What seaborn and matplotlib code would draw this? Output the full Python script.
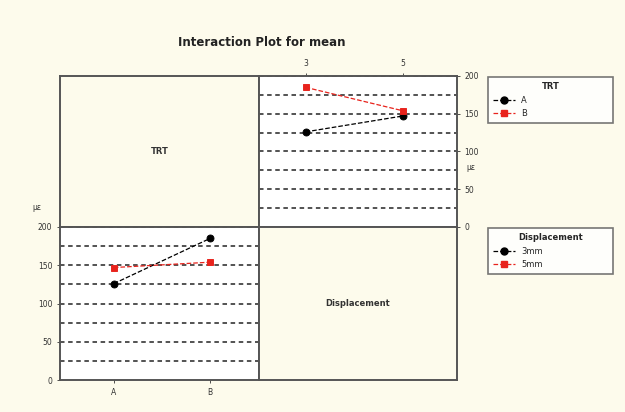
import numpy as np
import pandas as pd
import seaborn as sns
import matplotlib.pyplot as plt
from matplotlib.lines import Line2D

# data
trt = ["A", "A", "B", "B"]
disp = [3, 5, 3, 5]
mean_vals = [126, 147, 185, 154]
trt_levels = ["A", "B"]
disp_levels = [3, 5]
disp_names = ["3mm", "5mm"]
yticks = [0, 50, 100, 150, 200]

df = pd.DataFrame({"TRT": trt, "Displacement": disp, "mean": mean_vals})

sns.set_style("white")
plt.rcParams['font.family'] = ['DejaVu Sans']

bg = "#fdfbec"
frame = "#555555"
cols = ["black", "#e8231c"]
marks = ["o", "s"]

fig = plt.figure(figsize=(6.25, 4.12), dpi=100)
fig.patch.set_facecolor(bg)

W, H = 625, 412
def box(x0, y0, x1, y1):
    return [x0 / W, 1 - y1 / H, (x1 - x0) / W, (y1 - y0) / H]

ax_tl = fig.add_axes(box(60, 76, 259, 227))
ax_tr = fig.add_axes(box(259, 76, 457, 227))
ax_bl = fig.add_axes(box(60, 227, 259, 380))
ax_br = fig.add_axes(box(259, 227, 457, 380))

# label panels on diagonal
for ax, txt in [(ax_tl, "TRT"), (ax_br, "Displacement")]:
    ax.set_facecolor(bg)
    ax.set_xticks([])
    ax.set_yticks([])
    ax.text(0.5, 0.5, txt, ha="center", va="center", fontsize=6,
            fontweight="bold", color="#333333", transform=ax.transAxes)

# top right: x = Displacement, lines = TRT
sns.pointplot(data=df, x="Displacement", y="mean", hue="TRT", order=disp_levels,
              hue_order=trt_levels, palette=cols, markers=marks,
              linestyles=["--", "--"], markersize=5, linewidth=0.9,
              ax=ax_tr, legend=False)
ax_tr.set_xlim(-0.48, 1.56)
ax_tr.xaxis.tick_top()
ax_tr.yaxis.tick_right()

# bottom left: x = TRT, lines = Displacement
sns.pointplot(data=df, x="TRT", y="mean", hue="Displacement", order=trt_levels,
              hue_order=disp_levels, palette=cols, markers=marks,
              linestyles=["--", "--"], markersize=5, linewidth=0.9,
              ax=ax_bl, legend=False)
ax_bl.set_xlim(-0.56, 1.51)

for ax in (ax_tr, ax_bl):
    ax.set_facecolor("white")
    ax.set_ylim(0, 200)
    ax.set_yticks(yticks)
    for g in np.arange(25, 201, 25):
        ax.axhline(g, color="#444444", ls=(0, (2.5, 2)), lw=1.3, zorder=0)
    ax.set_xlabel("")
    ax.set_ylabel("")
    ax.tick_params(labelsize=5.5, colors="#333333", length=2, width=0.6,
                   direction="out")
ax_tr.tick_params(axis="x", which="both", top=True, bottom=False)
ax_tr.tick_params(axis="y", right=True, left=False)
ax_bl.tick_params(axis="x", bottom=True)
ax_bl.tick_params(axis="y", left=True)

for ax in (ax_tl, ax_tr, ax_bl, ax_br):
    for s in ax.spines.values():
        s.set_color(frame)
        s.set_linewidth(1.4)

fig.text(32 / W, 1 - 210 / H, "με", fontsize=5.5, color="#333333")
fig.text(466 / W, 1 - 170 / H, "με", fontsize=5.5, color="#333333")

fig.text(262 / W, 1 - 42 / H, "Interaction Plot for mean", ha="center",
         va="center", fontsize=8.5, fontweight="bold", color="#222222")

def handles(labels):
    return [Line2D([0], [0], color=c, ls="--", lw=0.9, marker=m, markersize=5)
            for c, m in zip(cols, marks)], labels

for lab, title, y0, y1 in [(trt_levels, "TRT", 77, 128),
                           (disp_names, "Displacement", 228, 277)]:
    h, l = handles(lab)
    leg = fig.legend(h, l, title=title, loc="upper left",
                     bbox_to_anchor=(488 / W, 1 - y1 / H, 125 / W, (y1 - y0) / H),
                     mode="expand", fontsize=6, title_fontsize=6,
                     frameon=True, fancybox=False, handlelength=2.6,
                     borderaxespad=0, labelspacing=0.55, borderpad=0.6)
    leg.get_frame().set_edgecolor(frame)
    leg.get_frame().set_linewidth(1.2)
    leg.get_frame().set_facecolor("white")
    leg.get_title().set_fontweight("bold")

fig.savefig("out.png", dpi=100, facecolor=bg)
